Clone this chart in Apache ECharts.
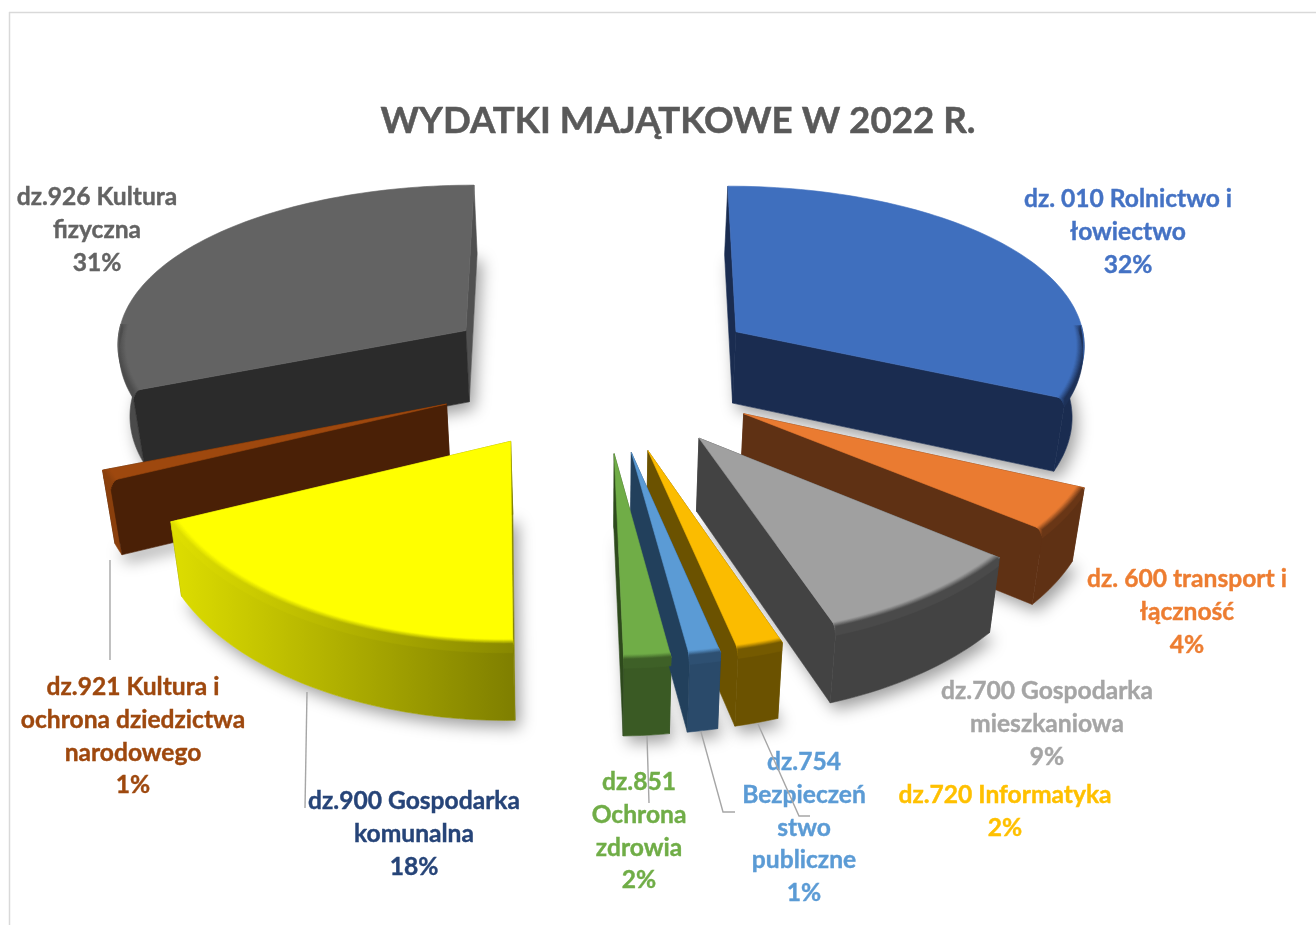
<!DOCTYPE html>
<html>
<head>
<meta charset="utf-8">
<script src="https://cdn.jsdelivr.net/npm/echarts@6/dist/echarts.min.js"></script>
<style>
  html, body { margin: 0; padding: 0; background: #fff; }
  #chart { width: 1316px; height: 925px; }
</style>
</head>
<body>
<div id="chart"></div>
<script>
// ---- data ----
const chartTitle = 'WYDATKI MAJĄTKOWE W 2022 R.';
const categories = [
    'dz. 010 Rolnictwo i\nłowiectwo',
    'dz. 600 transport i\nłączność',
    'dz.700 Gospodarka\nmieszkaniowa',
    'dz.720 Informatyka',
    'dz.754\nBezpieczeń\nstwo\npubliczne',
    'dz.851\nOchrona\nzdrowia',
    'dz.900 Gospodarka\nkomunalna',
    'dz.921 Kultura i\nochrona dziedzictwa\nnarodowego',
    'dz.926 Kultura\nfizyczna'
];
const shares = [31.6, 4, 8.9, 1.9, 1.3, 1.95, 18.4, 1, 30.95];

// ---- styles ----
const topColors = ['#3f6fbe', '#ea7b31', '#a0a0a0', '#fbbc00', '#5b9bd5', '#70ad47', '#ffff00', '#9e480e', '#636363'];
const labelColors = ['#4472c4', '#ed7d31', '#a5a5a5', '#ffc000', '#5b9bd5', '#70ad47', '#264478', '#9e480e', '#636363'];
// outer rim wall, left -> right colour
const rimColors = [
    ['#1a2c50', '#1a2c50'], ['#5f3114', '#5f3114'], ['#434343', '#434343'],
    ['#6b5200', '#6b5200'], ['#2a4a6a', '#2a4a6a'], ['#3a5a24', '#3a5a24'],
    ['#dede00', '#7f7f00'], ['#8a3f0c', '#8a3f0c'], ['#4a4a4a', '#4a4a4a']
];
// radial walls: [start edge, end edge]
const sideColors = [
    ['#1a2c50', '#1a2c50'], ['#5f3114', '#5f3114'], ['#434343', '#434343'],
    ['#6b5200', '#6b5200'], ['#22405c', '#22405c'], ['#2e4a1c', '#2e4a1c'],
    ['#808000', '#808000'], ['#4a2006', '#4a2006'], ['#2b2b2b', '#505050']
];
const labelPos = [[1128, 183], [1187, 563], [1047, 675], [1005, 779], [804, 746], [639, 766], [414, 785], [133, 671], [97, 181]];
const leaderLines = [
    [[110, 560], [110, 660]],
    [[307, 692], [305, 808]],
    [[647, 736], [649, 803]],
    [[701, 732], [723, 812], [735, 812]],
    [[758, 724], [799, 816], [810, 816]]
];

// ---- fake 3D view of the pie plane ----
const view = { cx: 600, cy: 373, scaleX: 375, scaleY: 168, perspX: 0.065, perspY: 0.1, depth: 72, shrink: 0.025 };
const explodeX = 0.44, explodeY = 0.46, rimX = 0.94;
const total = shares.reduce((a, b) => a + b, 0);

function project(x, y, d) {
    const sx = view.cx + view.scaleX * x / (1 - view.perspX * y) * (1 - view.shrink * d);
    const sy = view.cy + view.scaleY * y / (1 - view.perspY * y) + view.depth * (1 + 0.04 * y) * d;
    return [sx, sy];
}

function mix(c1, c2, t) {
    const p = c => [1, 3, 5].map(i => parseInt(c.substr(i, 2), 16));
    const a = p(c1), b = p(c2);
    return 'rgb(' + a.map((v, i) => Math.round(v + (b[i] - v) * t)).join(',') + ')';
}

function renderSlice(params, api) {
    const i = params.dataIndex;
    const a0 = api.value(1) / total * Math.PI * 2;
    const a1 = (api.value(1) + api.value(0)) / total * Math.PI * 2;
    const mid = (a0 + a1) / 2;
    const ox = explodeX * Math.sin(mid);
    const oy = -explodeY * Math.cos(mid);

    // far slices are painted first
    const rank = 50 - Math.round(Math.cos(mid) * 20);
    const pt = (ang, r, d) => project(ox + r * rimX * Math.sin(ang), oy - r * Math.cos(ang), d);
    const arc = (from, to, r, d) => {
        const out = [];
        const n = Math.max(4, Math.ceil((to - from) * 40));
        for (let k = 0; k <= n; k++) out.push(pt(from + (to - from) * k / n, r, d));
        return out;
    };
    const poly = (points, fill, z) => ({
        type: 'polygon', z2: rank * 10 + z, shape: { points },
        style: { fill, stroke: fill, lineWidth: 0.6 }
    });

    const topFace = [pt(0, 0, 0)].concat(arc(a0, a1, 1, 0));
    const bottomFace = [pt(0, 0, 1)].concat(arc(a0, a1, 1, 1));
    const children = [{
        type: 'polygon', z2: 0, shape: { points: bottomFace },
        style: { fill: '#fff', shadowBlur: 16, shadowColor: 'rgba(0,0,0,0.38)', shadowOffsetX: 5, shadowOffsetY: 7 }
    }];

    // radial walls: the ones turned away go under the rim, the others over it
    [[a0, 0, a0 > Math.PI], [a1, 1, a1 < Math.PI]].forEach(([ang, e, facing]) => {
        const quad = [pt(0, 0, 0), pt(ang, 1, 0), pt(ang, 1, 1), pt(0, 0, 1)];
        children.push(poly(quad, sideColors[i][e], facing ? 3 : 1));
    });

    // outer wall, only the part that faces the viewer
    const xs = topFace.map(p => p[0]);
    const xMin = Math.min.apply(null, xs), xMax = Math.max.apply(null, xs);
    const grad = (t) => ({
        type: 'linear', global: true, x: xMin, y: 0, x2: xMax, y2: 0,
        colorStops: [
            { offset: 0, color: mix(topColors[i], rimColors[i][0], t) },
            { offset: 1, color: mix(topColors[i], rimColors[i][1], t) }
        ]
    });
    const isFront = a => Math.cos(a) < 0.05;
    let f0 = a0, f1 = a1;
    while (f0 < f1 && !isFront(f0)) f0 += 0.01;
    while (f1 > f0 && !isFront(f1)) f1 -= 0.01;
    const hasRim = f1 - f0 > 0.01;
    if (hasRim) {
        const wall = arc(f0, f1, 1, 0).concat(arc(f0, f1, 1, 1).reverse());
        children.push(poly(wall, grad(1), 2));
    }

    children.push(poly(topFace, topColors[i], 4));

    // soft bevel along the rim
    if (hasRim) {
        const steps = 7;
        for (let s = 0; s < steps; s++) {
            const t0 = s / steps, t1 = (s + 1) / steps;
            const r0 = 1 - 0.022 * (1 - t0), r1 = 1 - 0.022 * (1 - t1);
            const strip = arc(f0, f1, r0, 0).concat(arc(f0, f1, r1, 0.11 * t1 * t1).reverse());
            children.push(poly(strip, grad((t0 + t1) / 2), 5));
        }
    }
    return { type: 'group', children };
}

// ---- option ----
let running = 0;
const sliceData = shares.map(v => {
    const row = [v, running];
    running += v;
    return row;
});

const graphics = [
    { type: 'line', shape: { x1: 9, y1: 12.5, x2: 1316, y2: 12.5 }, style: { stroke: '#d9d9d9', lineWidth: 1.5 } },
    { type: 'line', shape: { x1: 9.5, y1: 12, x2: 9.5, y2: 925 }, style: { stroke: '#d9d9d9', lineWidth: 1.5 } }
];
leaderLines.forEach(points => {
    graphics.push({
        type: 'polyline', z: 20, shape: { points },
        style: { stroke: '#a6a6a6', lineWidth: 1.4, fill: null }
    });
});
categories.forEach((name, i) => {
    graphics.push({
        type: 'text', z: 10, x: labelPos[i][0], y: labelPos[i][1],
        style: {
            text: name + '\n' + Math.round(shares[i]) + '%',
            fill: labelColors[i], stroke: labelColors[i], lineWidth: 0.4,
            align: 'center', verticalAlign: 'top',
            font: 'bold 24.6px Lato', lineHeight: 32.7
        }
    });
});

const chart = echarts.init(document.getElementById('chart'), null, { renderer: 'canvas' });
chart.setOption({
    animation: false,
    backgroundColor: '#fff',
    title: {
        text: chartTitle, left: 673, top: 98, textAlign: 'center',
        textStyle: { fontFamily: 'Lato', fontWeight: 'bold', fontSize: 36.7, color: '#595959', textBorderColor: '#595959', textBorderWidth: 0.5 }
    },
    graphic: graphics,
    series: [{
        type: 'custom', coordinateSystem: 'none', silent: true, clip: false,
        renderItem: renderSlice, data: sliceData
    }]
});
</script>
</body>
</html>
